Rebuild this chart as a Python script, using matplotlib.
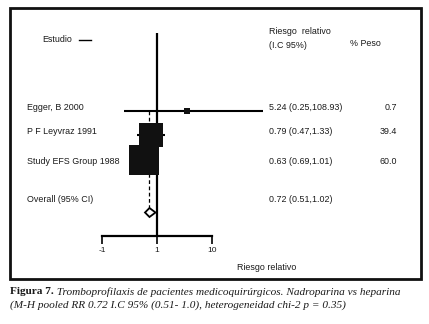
import numpy as np
import matplotlib
matplotlib.use("Agg")
import matplotlib.pyplot as plt
from matplotlib.patches import Rectangle

# ---- data ----
studies = ["Egger, B 2000", "P F Leyvraz 1991", "Study EFS Group 1988"]
rr_drawn = [3.5, 0.79, 0.59]          # positions of squares as drawn
ci_low = [0.25, 0.44, 0.69]
ci_high = [108.93, 1.4, 1.0]
rr_text = ["5.24 (0.25,108.93)", "0.79 (0.47,1.33)", "0.63 (0.69,1.01)"]
weights = [0.7, 39.4, 60.0]
weight_text = ["0.7", "39.4", "60.0"]
overall_label = "Overall (95% CI)"
overall_rr = 0.73
overall_low = 0.605
overall_high = 0.94
overall_text = "0.72 (0.51,1.02)"
tick_values = [0.1, 1, 10]
tick_labels = ["-1", "1", "10"]

W, H = 429, 324
fig = plt.figure(figsize=(W / 100, H / 100), dpi=100)
fig.patch.set_facecolor("white")

def fx(x):
    return x / W

def fy(y):
    return 1 - y / H

TXT = "#1a1a1a"
SANS = "Liberation Sans"
SERIF = "Liberation Serif"
FS = 6.4

# frame
fig.patches.append(Rectangle((fx(10), fy(279)), fx(421) - fx(10), fy(8) - fy(279),
                             transform=fig.transFigure, fill=False, lw=2.0,
                             edgecolor="#111111"))

# forest axes: x from px 102 (0.1) with 55 px per decade, clipped at px 263
decade = 55.0
left_px, right_px = 102, 263
xmax = 10 ** (-1 + (right_px - left_px) / decade)
ax = fig.add_axes([fx(left_px), 0, fx(right_px) - fx(left_px), 1])
ax.set_xscale("log")
ax.set_xlim(0.1, xmax)
ax.set_ylim(H, 0)
ax.patch.set_alpha(0)
for s in ["top", "right", "left"]:
    ax.spines[s].set_visible(False)
ax.spines["bottom"].set_position(("data", 236))
ax.spines["bottom"].set_bounds(0.1, 10)
ax.spines["bottom"].set_linewidth(1.6)
ax.set_yticks([])
ax.set_xticks(tick_values)
ax.set_xticklabels(tick_labels, fontfamily=SANS, fontsize=6.0, color=TXT)
ax.xaxis.set_minor_locator(matplotlib.ticker.NullLocator())
ax.tick_params(axis="x", direction="out", length=5.5, width=1.2, pad=2.5)

row_y = [111, 135, 159.5]
diamond_y = 212.5

# vertical line of no effect
ax.vlines(1, 33, 236, color="black", lw=1.6)
# dashed overall line
ax.vlines(overall_rr, row_y[0], diamond_y - 4.5, color="black", lw=0.9,
          linestyles=(0, (3, 2)))
# CI lines (clipped at the right edge of the plot)
ax.hlines(row_y, ci_low, ci_high, color="black", lw=1.5, clip_on=True)
# squares sized by weight
sides_px = [max(5.5, 3.8 * np.sqrt(w)) for w in weights]
for x, y, sp in zip(rr_drawn, row_y, sides_px):
    ax.scatter([x], [y], marker="s", s=(sp * 0.72) ** 2, color="#111111",
               linewidths=0, zorder=3, clip_on=False)
# diamond
ax.fill([overall_low, overall_rr, overall_high, overall_rr],
        [diamond_y, diamond_y - 4.5, diamond_y, diamond_y + 4.5],
        facecolor="white", edgecolor="black", lw=1.3, zorder=4)

# left texts
fig.text(fx(42), fy(40), "Estudio", fontfamily=SANS, fontsize=FS, color=TXT,
         va="center", ha="left")
fig.add_artist(plt.Line2D([fx(79), fx(91)], [fy(40), fy(40)], color="black", lw=1.0))
text_y = [108, 131, 162]
for name, y in zip(studies, text_y):
    fig.text(fx(27), fy(y), name, fontfamily=SANS, fontsize=FS, color=TXT,
             va="center", ha="left")
fig.text(fx(27), fy(199), overall_label, fontfamily=SANS, fontsize=FS, color=TXT,
         va="center", ha="left")

# right columns
fig.text(fx(269), fy(32), "Riesgo  relativo", fontfamily=SANS, fontsize=FS,
         color=TXT, va="center", ha="left")
fig.text(fx(269), fy(45), "(I.C 95%)", fontfamily=SANS, fontsize=FS,
         color=TXT, va="center", ha="left")
fig.text(fx(350), fy(43), "% Peso", fontfamily=SANS, fontsize=FS,
         color=TXT, va="center", ha="left")
for t, w, y in zip(rr_text, weight_text, text_y):
    fig.text(fx(269), fy(y), t, fontfamily=SANS, fontsize=FS, color=TXT,
             va="center", ha="left")
    fig.text(fx(397), fy(y), w, fontfamily=SANS, fontsize=FS, color=TXT,
             va="center", ha="right")
fig.text(fx(269), fy(199), overall_text, fontfamily=SANS, fontsize=FS, color=TXT,
         va="center", ha="left")
fig.text(fx(237), fy(267), "Riesgo relativo", fontfamily=SANS, fontsize=FS,
         color=TXT, va="center", ha="left")

# caption
cap1_bold = "Figura 7."
cap1_it = " Tromboprofilaxis de pacientes medicoquirúrgicos. Nadroparina vs heparina"
cap2 = "(M-H pooled RR 0.72 I.C 95% (0.51- 1.0), heterogeneidad chi-2 p = 0.35)"
t1 = fig.text(fx(10), fy(292), cap1_bold, fontfamily=SERIF, fontweight="bold",
              fontsize=8.1, color=TXT, va="center", ha="left")
fig.canvas.draw()
bb = t1.get_window_extent()
fig.text(bb.x1 / W, fy(292), cap1_it, fontfamily=SERIF, style="italic",
         fontsize=8.1, color=TXT, va="center", ha="left")
fig.text(fx(10), fy(305), cap2, fontfamily=SERIF, style="italic",
         fontsize=8.1, color=TXT, va="center", ha="left")

fig.savefig("out.png", dpi=100)
